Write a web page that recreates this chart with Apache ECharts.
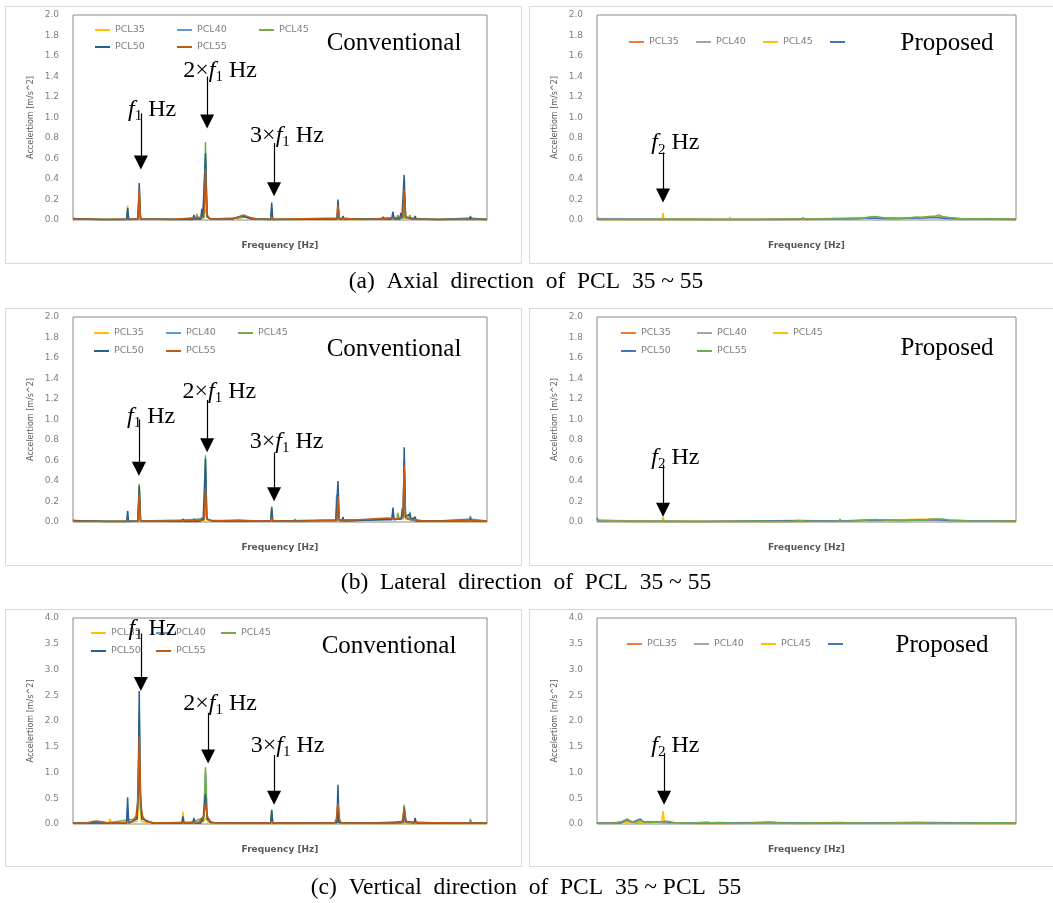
<!DOCTYPE html>
<html>
<head>
<meta charset="utf-8">
<title>PCL 35 ~ 55 acceleration spectra</title>
<script src="https://cdn.jsdelivr.net/npm/echarts@6.0.0/dist/echarts.min.js"></script>
<style>
    html, body { margin: 0; padding: 0; background: #fff; }
    #chart { width: 1053px; height: 903px; }
</style>
</head>
<body>
<div id="chart"></div>
<script>
    // series names
    const pclNames = ['PCL35', 'PCL40', 'PCL45', 'PCL50', 'PCL55'];

    // frequency axis (hidden labels), f1 ~ 20
    const freqMin = 0;
    const freqMax = 125;

    // (a) Axial, conventional  [freq, accel]
    const axialConv35 = [[0,0.01],[10,0.005],[16.2,0.005],[16.5,0.14],[16.8,0.005],[19.6,0.01],[20,0.1],[20.4,0.01],[30,0.005],[39.4,0.02],[40,0.1],[40.6,0.03],[41.5,0.01],[50,0.02],[52,0.03],[55,0.01],[59.7,0.005],[60,0.02],[60.3,0.005],[79.7,0.005],[80,0.03],[80.3,0.005],[88,0.005],[95,0.01],[99.7,0.01],[100,0.05],[100.3,0.01],[110,0.005],[120,0.01],[125,0.005]];
    const axialConv40 = [[0,0.01],[8,0.005],[16.2,0.005],[16.5,0.1],[16.8,0.005],[19.6,0.01],[20,0.22],[20.4,0.01],[33,0.01],[36.2,0.005],[36.5,0.04],[36.8,0.005],[38.6,0.01],[38.9,0.08],[39.2,0.02],[40,0.6],[40.5,0.03],[41.5,0.01],[48,0.01],[51,0.04],[54,0.01],[59.7,0.005],[60,0.12],[60.3,0.005],[79.7,0.01],[80,0.1],[80.4,0.01],[90,0.01],[96.3,0.01],[96.6,0.08],[96.9,0.01],[99.7,0.02],[100,0.25],[100.4,0.02],[110,0.005],[120,0.02],[125,0.005]];
    const axialConv45 = [[0,0.01],[10,0.005],[19.6,0.01],[20,0.25],[20.4,0.01],[30,0.005],[37.1,0.01],[37.4,0.06],[37.7,0.01],[39.6,0.03],[40,0.76],[40.4,0.04],[41.5,0.01],[50,0.02],[52,0.03],[56,0.01],[59.7,0.01],[60,0.05],[60.3,0.01],[79.7,0.01],[80,0.08],[80.4,0.01],[90,0.01],[95,0.02],[97.8,0.02],[98.1,0.05],[98.4,0.02],[99.7,0.03],[100,0.2],[100.4,0.03],[101.4,0.02],[101.7,0.05],[102,0.01],[110,0.005],[119.7,0.01],[120,0.04],[120.3,0.01],[125,0.005]];
    const axialConv50 = [[0,0.015],[8,0.005],[16.2,0.005],[16.5,0.12],[16.8,0.005],[19.6,0.01],[20,0.36],[20.4,0.01],[32.7,0.005],[33,0.02],[33.3,0.005],[36.2,0.005],[36.5,0.05],[36.8,0.01],[38.6,0.01],[38.9,0.11],[39.2,0.02],[40,0.65],[40.5,0.03],[41.5,0.01],[48,0.01],[51,0.04],[54,0.01],[59.7,0.005],[60,0.17],[60.3,0.005],[79.7,0.01],[80,0.2],[80.4,0.01],[81.2,0.01],[81.5,0.04],[81.8,0.01],[90,0.01],[93.3,0.01],[93.6,0.03],[93.9,0.01],[96.3,0.01],[96.6,0.08],[96.9,0.01],[98.7,0.01],[99,0.07],[99.3,0.02],[99.7,0.03],[100,0.44],[100.4,0.03],[103,0.01],[103.3,0.04],[103.6,0.01],[110,0.005],[119.7,0.01],[120,0.03],[120.3,0.01],[125,0.005]];
    const axialConv55 = [[0,0.01],[10,0.005],[19.6,0.01],[20,0.3],[20.4,0.01],[30,0.005],[39.3,0.03],[39.7,0.1],[40,0.5],[40.4,0.06],[41,0.02],[42,0.01],[48,0.01],[50,0.03],[51.5,0.05],[53,0.03],[55,0.01],[59.7,0.005],[60,0.04],[60.3,0.005],[79.7,0.02],[80,0.15],[80.4,0.02],[88,0.005],[92,0.01],[99.5,0.03],[100,0.3],[100.5,0.03],[102,0.01],[110,0.005],[125,0.005]];

    // (a) Axial, proposed
    const axialProp35 = [[0,0.02],[1,0.005],[19.4,0.005],[19.7,0.02],[20,0.005],[30.4,0.005],[30.7,0.02],[31,0.005],[45,0.005],[61.2,0.005],[61.5,0.025],[61.8,0.005],[75,0.01],[82,0.02],[86,0.01],[94,0.02],[98,0.03],[102,0.03],[106,0.015],[115,0.01],[125,0.005]];
    const axialProp40 = [[0,0.01],[20,0.01],[50,0.005],[82,0.02],[95,0.02],[102,0.03],[110,0.01],[125,0.005]];
    const axialProp45 = [[0,0.03],[0.5,0.02],[1,0.005],[19.4,0.005],[19.7,0.07],[20,0.005],[39.4,0.005],[39.7,0.03],[40,0.005],[60,0.01],[82,0.02],[96,0.02],[101,0.03],[105,0.01],[125,0.005]];
    const axialProp50 = [[0,0.01],[30,0.005],[50,0.005],[70,0.01],[83,0.02],[90,0.015],[97,0.02],[101,0.025],[104,0.015],[112,0.01],[125,0.005]];
    const axialProp55 = [[0,0.02],[1,0.005],[10,0.005],[20,0.005],[30,0.008],[40,0.005],[50,0.008],[60,0.01],[70,0.01],[78,0.012],[80,0.02],[81,0.03],[83,0.035],[85,0.025],[87,0.015],[90,0.015],[93,0.02],[95,0.03],[97,0.025],[99,0.035],[101,0.04],[102,0.05],[103,0.035],[105,0.025],[108,0.015],[112,0.01],[118,0.012],[125,0.01]];

    // (b) Lateral, conventional
    const lateralConv35 = [[0,0.01],[16,0.005],[19.6,0.01],[20,0.36],[20.4,0.01],[30,0.005],[39.6,0.02],[40,0.1],[40.5,0.02],[50,0.01],[59.7,0.01],[60,0.02],[60.3,0.01],[79.7,0.01],[80,0.05],[80.3,0.01],[86,0.015],[92,0.03],[97,0.03],[99.7,0.03],[100,0.1],[100.4,0.03],[102,0.02],[105,0.005],[125,0.005]];
    const lateralConv40 = [[0,0.01],[16,0.005],[19.6,0.01],[20,0.3],[20.4,0.01],[33,0.02],[38.9,0.03],[39.6,0.03],[40,0.5],[40.4,0.03],[42,0.01],[59.7,0.01],[60,0.1],[60.3,0.01],[79.3,0.01],[79.6,0.26],[79.9,0.05],[80.2,0.02],[90,0.02],[96.3,0.02],[96.6,0.1],[96.9,0.02],[99.7,0.04],[100,0.4],[100.4,0.04],[103,0.01],[110,0.01],[120,0.03],[125,0.01]];
    const lateralConv45 = [[0,0.02],[1,0.005],[19.6,0.01],[20,0.37],[20.4,0.01],[30,0.01],[39.6,0.03],[40,0.65],[40.4,0.03],[42,0.01],[59.7,0.01],[60,0.15],[60.3,0.01],[66.7,0.005],[67,0.03],[67.3,0.005],[79.7,0.01],[80,0.2],[80.4,0.01],[90,0.02],[97.8,0.03],[98.1,0.09],[98.4,0.03],[99.7,0.05],[100,0.6],[100.4,0.05],[101.4,0.03],[101.7,0.1],[102,0.03],[103,0.04],[103.3,0.05],[103.6,0.01],[110,0.01],[119.7,0.02],[120,0.06],[120.3,0.01],[125,0.01]];
    const lateralConv50 = [[0,0.015],[10,0.005],[16.2,0.005],[16.5,0.11],[16.8,0.005],[19.6,0.01],[20,0.35],[20.4,0.01],[32.9,0.005],[33.2,0.03],[33.5,0.005],[36.2,0.005],[36.5,0.03],[36.8,0.005],[38.6,0.01],[38.9,0.04],[39.3,0.02],[40,0.62],[40.4,0.03],[42,0.01],[59.7,0.01],[60,0.14],[60.3,0.01],[79.4,0.02],[80,0.4],[80.4,0.02],[81.2,0.01],[81.5,0.05],[81.8,0.01],[90,0.02],[96.3,0.03],[96.6,0.14],[96.9,0.03],[99.1,0.03],[99.4,0.13],[99.7,0.05],[100,0.73],[100.4,0.05],[101.7,0.08],[102.1,0.02],[103.3,0.05],[103.7,0.01],[110,0.01],[119.7,0.01],[120,0.04],[120.3,0.01],[125,0.01]];
    const lateralConv55 = [[0,0.01],[10,0.005],[19.6,0.01],[20,0.27],[20.4,0.01],[30,0.01],[39.6,0.02],[40,0.33],[40.4,0.03],[42,0.01],[50,0.02],[55,0.01],[59.7,0.01],[60,0.05],[60.3,0.01],[70,0.01],[79.7,0.02],[80,0.25],[80.4,0.02],[85,0.02],[90,0.03],[95,0.04],[98,0.03],[99.6,0.05],[100,0.55],[100.4,0.06],[101,0.03],[104,0.02],[106,0.01],[112,0.01],[118,0.02],[125,0.01]];

    // (b) Lateral, proposed
    const lateralProp35 = [[0,0.02],[10,0.005],[30,0.005],[59.7,0.005],[60,0.02],[60.3,0.005],[75,0.01],[85,0.015],[100,0.02],[104,0.015],[125,0.005]];
    const lateralProp40 = [[0,0.01],[40,0.005],[82,0.015],[100,0.02],[125,0.005]];
    const lateralProp45 = [[0,0.02],[19.4,0.005],[19.7,0.05],[20,0.005],[59.7,0.005],[60,0.02],[60.3,0.005],[80,0.015],[100,0.03],[103,0.02],[110,0.01],[125,0.005]];
    const lateralProp50 = [[0,0.04],[0.5,0.01],[30,0.005],[60,0.015],[72,0.01],[82,0.02],[92,0.015],[100,0.025],[105,0.015],[125,0.01]];
    const lateralProp55 = [[0,0.03],[0.5,0.01],[10,0.005],[20,0.008],[30,0.005],[40,0.005],[50,0.008],[58,0.005],[60,0.015],[62,0.01],[70,0.005],[72.2,0.005],[72.5,0.03],[72.8,0.005],[76,0.01],[81,0.02],[83,0.025],[85,0.02],[88,0.015],[92,0.015],[96,0.02],[99,0.025],[101,0.03],[103,0.03],[105,0.02],[110,0.012],[118,0.01],[125,0.01]];

    // (c) Vertical, conventional
    const verticalConv35 = [[0,0.02],[5,0.02],[8,0.04],[10.8,0.02],[11.2,0.1],[11.6,0.02],[14,0.01],[19.4,0.05],[20,0.5],[20.6,0.05],[24,0.01],[32.9,0.02],[33.2,0.24],[33.5,0.02],[36.2,0.02],[36.5,0.1],[36.8,0.02],[39.5,0.05],[40,0.12],[40.7,0.04],[42,0.01],[59.7,0.01],[60,0.03],[60.3,0.01],[79.7,0.01],[80,0.05],[80.3,0.01],[99.7,0.01],[100,0.05],[100.3,0.01],[125,0.01]];
    const verticalConv40 = [[0,0.02],[16.2,0.02],[16.5,0.3],[16.8,0.02],[19.3,0.1],[19.7,0.6],[20,2.2],[20.3,0.6],[20.8,0.1],[24,0.02],[32.9,0.02],[33.2,0.1],[33.5,0.02],[38.6,0.02],[38.9,0.05],[39.2,0.03],[39.5,0.15],[40,0.98],[40.5,0.15],[41.5,0.03],[59.7,0.02],[60,0.2],[60.3,0.02],[79.7,0.03],[80,0.5],[80.3,0.03],[96.3,0.02],[96.6,0.05],[96.9,0.02],[99.7,0.02],[100,0.25],[100.4,0.03],[119.7,0.02],[120,0.03],[120.3,0.02],[125,0.02]];
    const verticalConv45 = [[0,0.02],[6,0.03],[8,0.05],[10,0.02],[19.3,0.1],[19.7,0.5],[20,2.1],[20.3,0.5],[20.8,0.1],[24,0.02],[35,0.02],[39.5,0.12],[40,1.1],[40.5,0.12],[41.5,0.03],[50,0.02],[59.7,0.02],[60,0.28],[60.3,0.02],[79.7,0.02],[80,0.3],[80.3,0.02],[90,0.02],[99.5,0.05],[100,0.37],[100.5,0.05],[110,0.02],[119.7,0.02],[120,0.1],[120.3,0.02],[125,0.02]];
    const verticalConv50 = [[0,0.02],[3,0.02],[3.5,0.05],[4,0.02],[16.2,0.02],[16.5,0.52],[16.8,0.02],[19.3,0.1],[19.7,0.7],[20,2.58],[20.3,0.6],[20.8,0.1],[24,0.02],[32.9,0.02],[33.2,0.15],[33.5,0.02],[36.2,0.02],[36.5,0.12],[36.8,0.02],[38.6,0.02],[38.9,0.12],[39.2,0.05],[40,0.58],[40.5,0.1],[41.5,0.03],[59.7,0.02],[60,0.27],[60.3,0.02],[79.7,0.03],[80,0.76],[80.3,0.03],[96.3,0.02],[96.6,0.05],[96.9,0.02],[99.7,0.05],[100,0.32],[100.4,0.05],[103,0.02],[103.3,0.12],[103.6,0.02],[119.7,0.02],[120,0.05],[120.3,0.02],[125,0.02]];
    const verticalConv55 = [[0,0.02],[4,0.02],[6,0.05],[7,0.06],[8,0.05],[10,0.03],[14,0.02],[18,0.05],[19,0.15],[19.5,0.4],[20,1.7],[20.5,0.4],[21,0.15],[22,0.05],[25,0.02],[38,0.04],[39.5,0.15],[40,0.42],[40.5,0.15],[41.5,0.05],[43,0.02],[59.7,0.02],[60,0.06],[60.3,0.02],[79,0.02],[79.5,0.1],[80,0.4],[80.5,0.08],[81,0.02],[99,0.02],[99.5,0.08],[100,0.3],[100.5,0.08],[101,0.03],[119.7,0.02],[120,0.05],[120.3,0.02],[125,0.02]];

    // (c) Vertical, proposed
    const verticalProp35 = [[0,0.02],[5,0.01],[9,0.05],[12,0.02],[17.6,0.04],[22,0.02],[30,0.01],[40,0.01],[52,0.03],[60,0.01],[80,0.02],[100,0.02],[125,0.01]];
    const verticalProp40 = [[0,0.01],[9,0.04],[13,0.05],[20,0.03],[40,0.02],[60,0.02],[100,0.02],[125,0.01]];
    const verticalProp45 = [[0,0.02],[8,0.03],[12,0.03],[19.3,0.03],[19.7,0.25],[20.1,0.05],[21,0.06],[22,0.02],[33,0.02],[36,0.03],[50,0.02],[80,0.02],[125,0.01]];
    const verticalProp50 = [[0,0.02],[7,0.02],[9,0.08],[10.5,0.03],[12.8,0.1],[14,0.04],[17.6,0.04],[20,0.05],[22,0.03],[30,0.02],[50,0.03],[70,0.02],[96,0.03],[125,0.02]];
    const verticalProp55 = [[0,0.02],[2,0.01],[5,0.02],[7.5,0.05],[9,0.1],[10.5,0.04],[11.5,0.03],[12.8,0.08],[14,0.04],[16,0.03],[18,0.04],[20,0.05],[21.5,0.05],[23,0.03],[27,0.02],[30,0.025],[33,0.04],[34,0.02],[36,0.03],[40,0.02],[45,0.02],[51.6,0.04],[55,0.02],[60,0.02],[66,0.025],[72.8,0.03],[78,0.02],[85,0.02],[95.8,0.03],[100,0.02],[110,0.02],[118,0.025],[125,0.02]];

    // harmonic arrows: x, arrow from/to, text anchor
    const axialConvNotes = [
        { pre: '', sub: '1', x: 20.5, from: 1.04, to: 0.56, tx: 23.9, ty: 1.08 },
        { pre: '2×', sub: '1', x: 40.5, from: 1.40, to: 0.96, tx: 44.4, ty: 1.46 },
        { pre: '3×', sub: '1', x: 60.7, from: 0.75, to: 0.30, tx: 64.6, ty: 0.82 }
    ];
    const lateralConvNotes = [
        { pre: '', sub: '1', x: 19.9, from: 1.00, to: 0.52, tx: 23.6, ty: 1.03 },
        { pre: '2×', sub: '1', x: 40.5, from: 1.19, to: 0.75, tx: 44.2, ty: 1.27 },
        { pre: '3×', sub: '1', x: 60.7, from: 0.68, to: 0.27, tx: 64.5, ty: 0.78 }
    ];
    const verticalConvNotes = [
        { pre: '', sub: '1', x: 20.5, from: 3.70, to: 2.72, tx: 24.0, ty: 3.79 },
        { pre: '2×', sub: '1', x: 40.8, from: 2.16, to: 1.31, tx: 44.4, ty: 2.33 },
        { pre: '3×', sub: '1', x: 60.7, from: 1.34, to: 0.51, tx: 64.8, ty: 1.53 }
    ];
    const axialPropNotes = [{ pre: '', sub: '2', x: 19.7, from: 0.66, to: 0.24, tx: 23.4, ty: 0.75 }];
    const lateralPropNotes = [{ pre: '', sub: '2', x: 19.7, from: 0.56, to: 0.12, tx: 23.4, ty: 0.63 }];
    const verticalPropNotes = [{ pre: '', sub: '2', x: 20.0, from: 1.38, to: 0.51, tx: 23.4, ty: 1.53 }];

    const convColors = ['#FFC000', '#5B9BD5', '#70AD47', '#255E91', '#C55A11'];
    const propColors = ['#ED7D31', '#A5A5A5', '#FFC000', '#4472C4', '#70AD47'];

    const panels = [
        { id: 'aC', grid: [73, 15, 414, 205], yMax: 2, yStep: 0.2, data: [axialConv35, axialConv40, axialConv45, axialConv50, axialConv55], colors: convColors,
          legendRows: [[0, 1, 2], [3, 4]], legendX: 95, legendY: [31, 48], legendStep: 82, hideLabel: [], notes: axialConvNotes, tag: 'Conventional', tagPos: [394, 43] },
        { id: 'aP', grid: [597, 15, 419, 205], yMax: 2, yStep: 0.2, data: [axialProp35, axialProp40, axialProp45, axialProp50, axialProp55], colors: propColors,
          legendRows: [[0, 1, 2, 3]], legendX: 629, legendY: [43], legendStep: 67, hideLabel: [3], notes: axialPropNotes, tag: 'Proposed', tagPos: [947, 43] },
        { id: 'bC', grid: [73, 317, 414, 205], yMax: 2, yStep: 0.2, data: [lateralConv35, lateralConv40, lateralConv45, lateralConv50, lateralConv55], colors: convColors,
          legendRows: [[0, 1, 2], [3, 4]], legendX: 94, legendY: [334, 352], legendStep: 72, hideLabel: [], notes: lateralConvNotes, tag: 'Conventional', tagPos: [394, 349] },
        { id: 'bP', grid: [597, 317, 419, 205], yMax: 2, yStep: 0.2, data: [lateralProp35, lateralProp40, lateralProp45, lateralProp50, lateralProp55], colors: propColors,
          legendRows: [[0, 1, 2], [3, 4]], legendX: 621, legendY: [334, 352], legendStep: 76, hideLabel: [], notes: lateralPropNotes, tag: 'Proposed', tagPos: [947, 348] },
        { id: 'cC', grid: [73, 618, 414, 206], yMax: 4, yStep: 0.5, data: [verticalConv35, verticalConv40, verticalConv45, verticalConv50, verticalConv55], colors: convColors,
          legendRows: [[0, 1, 2], [3, 4]], legendX: 91, legendY: [634, 652], legendStep: 65, hideLabel: [], notes: verticalConvNotes, tag: 'Conventional', tagPos: [389, 646] },
        { id: 'cP', grid: [597, 618, 419, 206], yMax: 4, yStep: 0.5, data: [verticalProp35, verticalProp40, verticalProp45, verticalProp50, verticalProp55], colors: propColors,
          legendRows: [[0, 1, 2, 3]], legendX: 627, legendY: [645], legendStep: 67, hideLabel: [3], notes: verticalPropNotes, tag: 'Proposed', tagPos: [942, 645] }
    ];

    const captions = [
        { text: '(a)  Axial  direction  of  PCL  35 ~ 55', x: 526, y: 282 },
        { text: '(b)  Lateral  direction  of  PCL  35 ~ 55', x: 526, y: 583 },
        { text: '(c)  Vertical  direction  of  PCL  35 ~ PCL  55', x: 526, y: 888 }
    ];
    const frames = [[5.5, 6.5, 516, 257], [529.5, 6.5, 530, 257], [5.5, 308.5, 516, 257], [529.5, 308.5, 530, 257], [5.5, 609.5, 516, 257], [529.5, 609.5, 530, 257]];

    const grayText = '#7f7f7f';
    const serif = '"Liberation Serif", "Times New Roman", serif';
    const noteRich = {
        n: { fontFamily: serif, fontSize: 24, lineHeight: 28, color: '#000' },
        f: { fontFamily: serif, fontSize: 24, lineHeight: 28, fontStyle: 'italic', color: '#000' },
        s: { fontFamily: serif, fontSize: 15, lineHeight: 15, verticalAlign: 'bottom', color: '#000' }
    };

    const grid = [], xAxis = [], yAxis = [], series = [], legend = [], graphic = [];

    panels.forEach((p, i) => {
        grid.push({ left: p.grid[0], top: p.grid[1], width: p.grid[2], height: p.grid[3], show: true, borderColor: '#8a8a8a', borderWidth: 1, containLabel: false, outerBoundsMode: 'none' });
        xAxis.push({
            type: 'value', gridIndex: i, min: freqMin, max: freqMax,
            axisLabel: { show: false }, axisTick: { show: false }, axisLine: { show: false }, splitLine: { show: false },
            name: 'Frequency [Hz]', nameLocation: 'middle', nameGap: 21,
            nameTextStyle: { color: '#595959', fontFamily: 'DejaVu Sans', fontSize: 9, fontWeight: 'bold' }
        });
        yAxis.push({
            type: 'value', gridIndex: i, min: 0, max: p.yMax, interval: p.yStep,
            axisLabel: { formatter: v => v.toFixed(1), color: grayText, fontFamily: 'DejaVu Sans', fontSize: 9, margin: 14 },
            axisLine: { show: false }, axisTick: { show: false }, splitLine: { show: false },
            name: 'Accelertiom [m/s^2]', nameLocation: 'middle', nameGap: 38,
            nameTextStyle: { color: '#595959', fontFamily: 'DejaVu Sans', fontSize: 8 }
        });

        const names = pclNames.map(n => p.id + '|' + n);
        p.data.forEach((d, k) => {
            const s = {
                name: names[k], type: 'line', xAxisIndex: i, yAxisIndex: i, data: d,
                symbol: 'none', showSymbol: false, animation: false, silent: true,
                lineStyle: { width: 1.5, color: p.colors[k] }, itemStyle: { color: p.colors[k] }
            };
            if (k === p.data.length - 1) {
                s.markLine = {
                    silent: true, animation: false, symbol: ['none', 'triangle'], symbolSize: [14, 14],
                    label: { show: false }, lineStyle: { color: '#000', width: 1.2, type: 'solid' },
                    itemStyle: { color: '#000' },
                    data: p.notes.map(nt => [{ coord: [nt.x, nt.from] }, { coord: [nt.x, nt.to] }])
                };
                s.markPoint = {
                    silent: true, animation: false, symbol: 'rect', symbolSize: 1,
                    itemStyle: { color: 'rgba(0,0,0,0)' },
                    data: p.notes.map(nt => ({
                        coord: [nt.tx, nt.ty],
                        label: {
                            show: true, position: 'inside',
                            formatter: (nt.pre ? '{n|' + nt.pre + '}' : '') + '{f|f}{s|' + nt.sub + '}{n| Hz}',
                            rich: noteRich
                        }
                    }))
                };
            }
            series.push(s);
        });

        p.legendRows.forEach((row, r) => {
            legend.push({
                left: p.legendX, top: p.legendY[r] - 6, orient: 'horizontal', padding: 0,
                itemGap: 0, itemWidth: 15, itemHeight: 2, icon: 'rect', selectedMode: false,
                data: row.map(k => names[k]),
                formatter: name => {
                    const k = names.indexOf(name);
                    return '{t|' + (p.hideLabel.includes(k) ? '' : pclNames[k]) + '}';
                },
                textStyle: {
                    color: grayText, fontFamily: 'DejaVu Sans', fontSize: 9.5,
                    rich: { t: { width: p.legendStep - 20, color: grayText, fontFamily: 'DejaVu Sans', fontSize: 9.5, lineHeight: 12 } }
                }
            });
        });

        graphic.push({
            type: 'text', x: p.tagPos[0], y: p.tagPos[1], silent: true,
            style: { text: p.tag, font: '25px ' + serif, fill: '#000', textAlign: 'center', textVerticalAlign: 'middle' }
        });
    });

    frames.forEach(f => {
        graphic.push({ type: 'rect', silent: true, z: -10, shape: { x: f[0], y: f[1], width: f[2], height: f[3] }, style: { fill: 'none', stroke: '#d9d9d9', lineWidth: 1 } });
    });
    captions.forEach(c => {
        graphic.push({ type: 'text', x: c.x, y: c.y, silent: true, style: { text: c.text, font: '23.5px ' + serif, fill: '#000', textAlign: 'center', textVerticalAlign: 'middle' } });
    });

    const chart = echarts.init(document.getElementById('chart'), null, { renderer: 'canvas' });
    chart.setOption({
        backgroundColor: '#fff',
        animation: false,
        grid: grid,
        xAxis: xAxis,
        yAxis: yAxis,
        legend: legend,
        series: series,
        graphic: graphic
    });
    window.addEventListener('resize', function () { chart.resize(); });
</script>
</body>
</html>
